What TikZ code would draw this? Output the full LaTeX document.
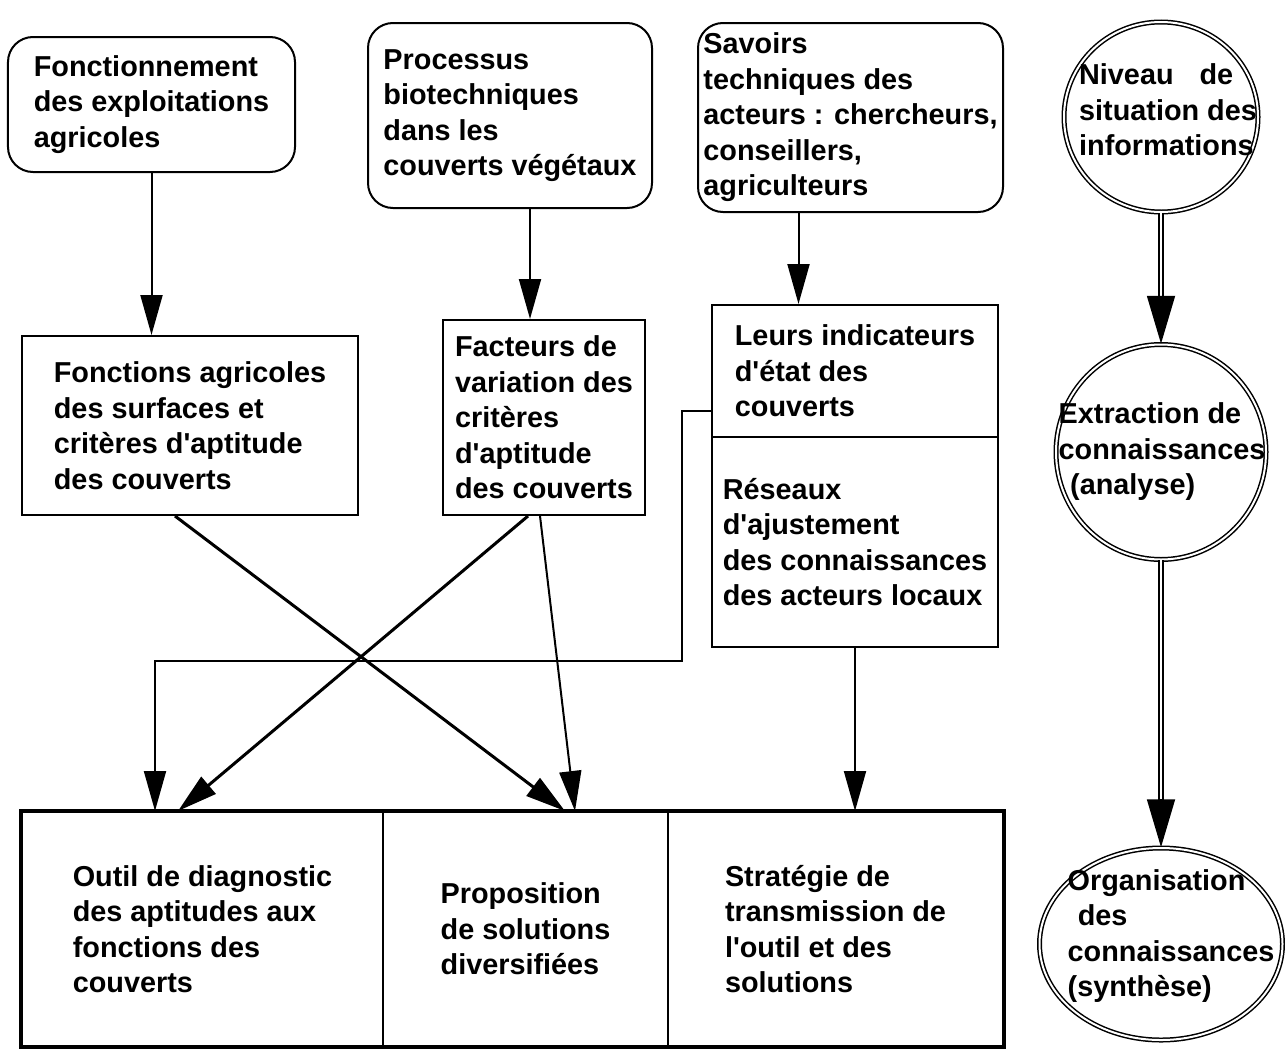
\documentclass[tikz,border=0pt]{standalone}
\usepackage{fontspec}
\setmainfont{Liberation Sans}
\usetikzlibrary{arrows.meta,shapes.geometric,calc}
\newcommand{\ap}{\textquotesingle}
\tikzset{
  txt/.style={align=left, inner sep=1pt, font=\bfseries\fontsize{16.4}{20.2}\selectfont},
  box/.style={txt, draw, line width=0.4mm},
  rbox/.style={box, rounded corners=5mm},
  ring/.style={ellipse, draw, double, double distance=0.4mm, line width=0.3mm},
  diag/.style={line width=0.6mm},
  dline/.style={double, double distance=0.5mm, line width=0.35mm, shorten >=9.4mm},
  dtip/.style={-{Triangle[length=9.6mm,width=5.6mm]}, line width=0.35mm}
}
\begin{document}
\begin{tikzpicture}[x=0.2mm, y=-0.2mm, >={Triangle[length=8mm,width=4.4mm]}, line width=0.4mm]
\useasboundingbox (0,0) rectangle (1285,1049);
%% sources
\node[rbox, minimum width=5.74cm, minimum height=2.7cm] (fonct) at (151.5,104.5) {Fonctionnement\\des exploitations\\agricoles};
\node[rbox, minimum width=5.68cm, minimum height=3.7cm] (proc) at (510,115.5) {Processus\\biotechniques\\dans les\\couverts végétaux};
\node[rbox, minimum width=6.1cm, minimum height=3.78cm] (sav) at (850.5,117.5) {Savoirs\\techniques des\\acteurs : chercheurs,\\conseillers,\\agriculteurs};
%% middle row
\node[box, minimum width=6.72cm, minimum height=3.58cm] (fag) at (190,425.5) {Fonctions agricoles\\des surfaces et\\critères d\ap aptitude\\des couverts};
\node[box, minimum width=4.04cm, minimum height=3.9cm] (fact) at (544,417.5) {Facteurs de\\variation des\\critères\\d\ap aptitude\\des couverts};
\node[box, minimum width=5.72cm, minimum height=2.64cm] (ind) at (855,371) {Leurs indicateurs\\d\ap état des\\couverts};
\node[box, minimum width=5.72cm, minimum height=4.2cm] (res) at (855,542) {Réseaux\\d\ap ajustement\\des connaissances\\des acteurs locaux};
%% results
\node[box, minimum width=7.22cm, minimum height=4.68cm] (outil) at (202.5,929) {Outil de diagnostic\\des aptitudes aux\\fonctions des\\couverts};
\node[box, minimum width=5.7cm, minimum height=4.68cm] (prop) at (525.5,929) {Proposition\\de solutions\\diversifiées};
\node[box, minimum width=6.7cm, minimum height=4.68cm] (strat) at (835.5,929) {Stratégie de\\transmission de\\l\ap outil et des\\solutions};
\draw[line width=0.8mm] (outil.north west) rectangle (strat.south east);
%% levels
\node[ring, minimum width=3.88cm, minimum height=3.8cm] (niveau) at (1161,117) {};
\node[ring, minimum width=4.2cm, minimum height=4.3cm] (extract) at (1161,452) {};
\node[ring, minimum width=4.86cm, minimum height=3.84cm] (organ) at (1161,944) {};
\node[txt] (niveautxt) at (1168,110) {Niveau\hspace{0.9em}de\\situation des\\informations};
\node[txt] (extracttxt) at (1162,452) {Extraction de\\connaissances\\\hspace*{0.4em}(analyse)};
\node[txt] (organtxt) at (1171,936) {Organisation\\\hspace*{0.35em}des\\connaissances\\(synthèse)};
\draw[dline] (niveau) -- (extract);
\draw[dtip] ($(extract.north)+(0,-48)$) -- (extract.north);
\draw[dline] (extract) -- (organ);
\draw[dtip] ($(organ.north)+(0,-48)$) -- (organ.north);
%% connectors
\draw[->] (fonct.south) -- (fonct.south |- fag.north);
\draw[->] ([xshift=4mm]proc.south) -- ([xshift=4mm]proc.south |- fact.north);
\draw[->] ([xshift=-10.4mm]sav.south) -- ([xshift=-10.4mm]sav.south |- ind.north);
\draw[->, diag] ([xshift=-3mm]fag.south) -- ([xshift=7.9mm]prop.north);
\draw[->, diag] ([xshift=-3.2mm]fact.south) -- ([xshift=-4.9mm]outil.north);
\draw[->] ([xshift=-0.8mm]fact.south) -- ([xshift=9.9mm]prop.north);
\draw[->] ($(ind.south west)+(0,-27)$) -| ++(-29,250) -| ([xshift=-9.5mm]outil.north);
\draw[->] (res.south) -- (res.south |- strat.north);
\end{tikzpicture}
\end{document}
